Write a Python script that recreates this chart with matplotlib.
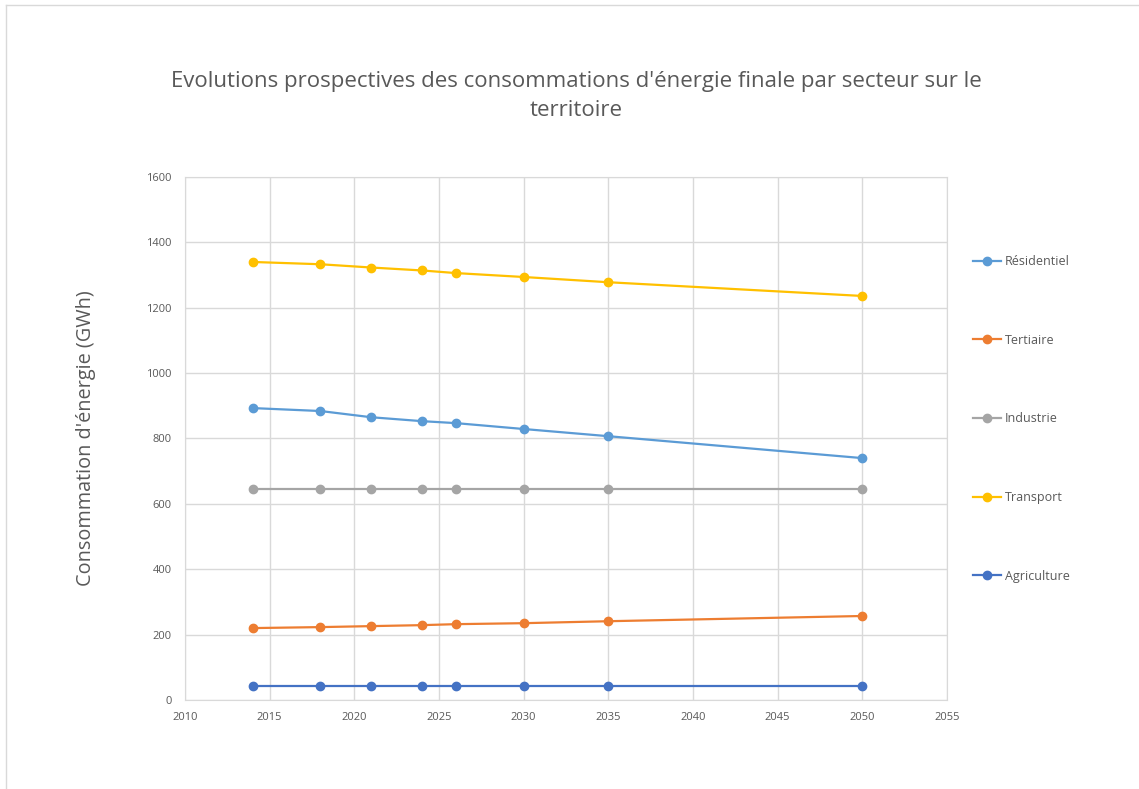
import matplotlib.pyplot as plt
from matplotlib.lines import Line2D

# years of the scenario
years = [2014, 2018, 2021, 2024, 2026, 2030, 2035, 2050]

# final energy consumption per sector (GWh)
residentiel = [893, 884, 865, 853, 847, 829, 807, 740]
tertiaire = [220, 223, 226, 229, 232, 235, 241, 257]
industrie = [645, 645, 645, 645, 645, 645, 645, 645]
transport = [1340, 1333, 1323, 1314, 1306, 1294, 1278, 1236]
agriculture = [43, 43, 43, 43, 43, 43, 43, 43]

sectors = ["Résidentiel", "Tertiaire", "Industrie", "Transport", "Agriculture"]
colors = ["#5B9BD5", "#ED7D31", "#A5A5A5", "#FFC000", "#4472C4"]

plt.rcParams['font.family'] = ['Open Sans', 'DejaVu Sans']

fig = plt.figure(figsize=(11.39, 7.89), dpi=100)
ax = fig.add_axes([0.1624, 0.1128, 0.669, 0.6629])

series = [residentiel, tertiaire, industrie, transport, agriculture]
for name, vals, col in zip(sectors, series, colors):
    ax.plot(years, vals, color=col, lw=1.6, marker='o', markersize=6, label=name)

ax.set_xlim(2010, 2055)
ax.set_ylim(0, 1600)
ax.set_xticks(range(2010, 2056, 5))
ax.set_yticks(range(0, 1601, 200))
ax.grid(True, color='#D9D9D9', lw=1)
ax.set_axisbelow(True)
for s in ax.spines.values():
    s.set_color('#D9D9D9')
ax.tick_params(length=0, labelsize=8, colors='#595959')
ax.tick_params(axis='y', pad=9.5)
ax.tick_params(axis='x', pad=8.5)

ax.set_ylabel("Consommation d'énergie (GWh)", fontsize=14.3, color='#595959', labelpad=36)

fig.text(0.5057, 0.878, "Evolutions prospectives des consommations d'énergie finale par secteur sur le\nterritoire",
         ha='center', va='center', fontsize=16, color='#595959', linespacing=1.5)

leg = ax.legend(loc='upper left', bbox_to_anchor=(1.02, 0.872), frameon=False,
                fontsize=9, labelspacing=5.25, handlelength=2.2, handletextpad=0.3)
for t in leg.get_texts():
    t.set_color('#595959')

# outer chart border (left and top edges visible)
fig.add_artist(Line2D([0.0053, 0.0053], [0, 0.9937], color='#D9D9D9', lw=1))
fig.add_artist(Line2D([0.0053, 1.0], [0.9937, 0.9937], color='#D9D9D9', lw=1))

fig.savefig('out.png', dpi=100, facecolor='white')
